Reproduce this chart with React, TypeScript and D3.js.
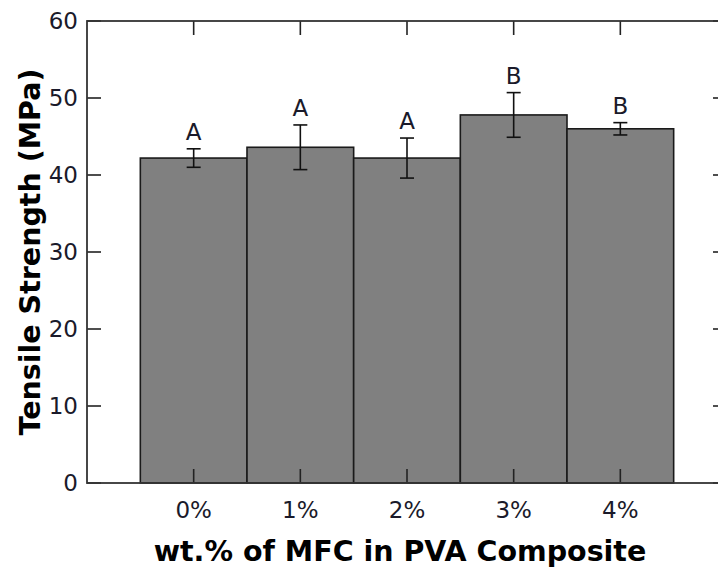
import React from 'react'
import * as d3 from 'd3'

const categories = ['0%', '1%', '2%', '3%', '4%']
const strength = [42.2, 43.6, 42.2, 47.8, 46.0]
const errors = [1.2, 2.9, 2.6, 2.9, 0.8]
const groups = ['A', 'A', 'A', 'B', 'B']
const yTicks = [0, 10, 20, 30, 40, 50, 60]

const W = 718
const H = 572
const frame = { left: 87, right: 727, top: 21, bottom: 483 }
const TICK = 14
const FONT = '"DejaVu Sans", Verdana, sans-serif'

export default function App() {
  const x = d3.scaleLinear().domain([-1, 5]).range([frame.left, frame.right])
  const y = d3.scaleLinear().domain([0, 60]).range([frame.bottom, frame.top])
  const barW = x(1) - x(0)

  return (
    <div style={{ position: 'fixed', left: 0, top: 0 }}>
      <svg width={W} height={H} style={{ display: 'block', background: '#fff' }}>
        {/* bars */}
        {strength.map((v, i) => (
          <rect
            key={'b' + i}
            x={x(i) - barW / 2}
            y={y(v)}
            width={barW}
            height={y(0) - y(v)}
            fill="#808080"
            stroke="#1a1a1a"
            strokeWidth={1.6}
          />
        ))}

        {/* x ticks (inward, bottom and top) */}
        {categories.map((c, i) => (
          <g key={'xt' + i} stroke="#222" strokeWidth={1.6}>
            <line x1={x(i)} x2={x(i)} y1={frame.bottom} y2={frame.bottom - TICK} />
            <line x1={x(i)} x2={x(i)} y1={frame.top} y2={frame.top + TICK} />
          </g>
        ))}

        {/* y ticks (inward, left and right) */}
        {yTicks.map(t => (
          <g key={'yt' + t} stroke="#222" strokeWidth={1.6}>
            <line x1={frame.left} x2={frame.left + TICK} y1={y(t)} y2={y(t)} />
            <line x1={frame.right} x2={frame.right - TICK} y1={y(t)} y2={y(t)} />
          </g>
        ))}

        {/* error bars */}
        {strength.map((v, i) => {
          const hi = y(v + errors[i])
          const lo = y(v - errors[i])
          const cx = x(i)
          return (
            <g key={'e' + i} stroke="#111" strokeWidth={1.6}>
              <line x1={cx} x2={cx} y1={hi} y2={lo} />
              <line x1={cx - 7} x2={cx + 7} y1={hi} y2={hi} />
              <line x1={cx - 7} x2={cx + 7} y1={lo} y2={lo} />
            </g>
          )
        })}

        {/* group letters */}
        {strength.map((v, i) => (
          <text
            key={'g' + i}
            x={x(i)}
            y={y(v + errors[i]) - 9}
            textAnchor="middle"
            fontFamily={FONT}
            fontSize={23}
            fill="#1a1a2a"
          >
            {groups[i]}
          </text>
        ))}

        {/* frame */}
        <rect
          x={frame.left}
          y={frame.top}
          width={frame.right - frame.left}
          height={frame.bottom - frame.top}
          fill="none"
          stroke="#333"
          strokeWidth={1.8}
        />

        {/* y tick labels */}
        {yTicks.map(t => (
          <text
            key={'yl' + t}
            x={frame.left - 9}
            y={y(t)}
            dy="0.36em"
            textAnchor="end"
            fontFamily={FONT}
            fontSize={23}
            fill="#1a1a2a"
          >
            {t}
          </text>
        ))}

        {/* x tick labels */}
        {categories.map((c, i) => (
          <text
            key={'xl' + i}
            x={x(i)}
            y={518}
            textAnchor="middle"
            fontFamily={FONT}
            fontSize={23}
            fill="#1a1a2a"
          >
            {c}
          </text>
        ))}

        {/* axis titles */}
        <text
          x={400}
          y={561}
          textAnchor="middle"
          fontFamily={FONT}
          fontWeight="bold"
          fontSize={28.5}
          fill="#000"
        >
          wt.% of MFC in PVA Composite
        </text>
        <text
          transform={`translate(40,${(frame.top + frame.bottom) / 2}) rotate(-90)`}
          textAnchor="middle"
          fontFamily={FONT}
          fontWeight="bold"
          fontSize={28.5}
          fill="#000"
        >
          Tensile Strength (MPa)
        </text>
      </svg>
    </div>
  )
}
